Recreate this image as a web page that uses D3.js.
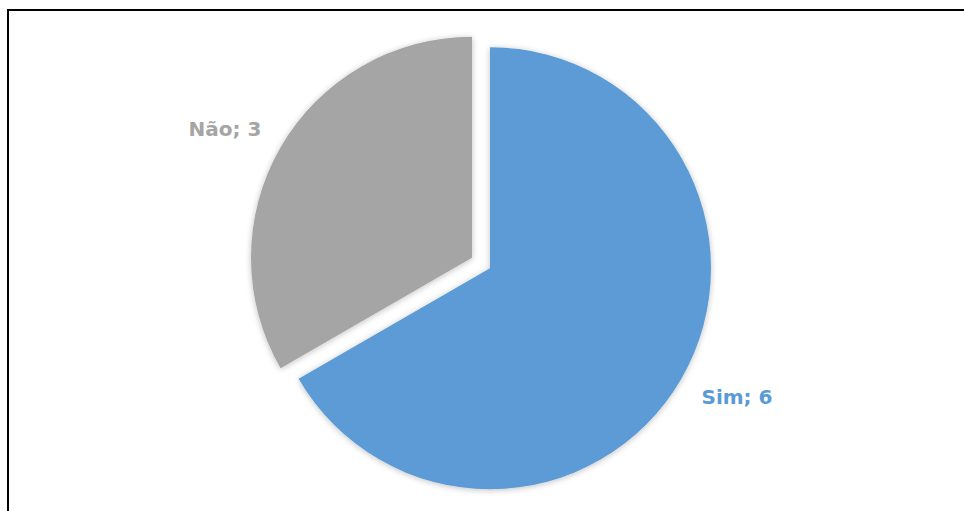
<!DOCTYPE html>
<html>
<head>
<meta charset="utf-8">
<script src="https://cdn.jsdelivr.net/npm/d3@7"></script>
<style>
  html, body { margin: 0; padding: 0; background: #fff; }
  svg { display: block; }
</style>
</head>
<body>
<svg id="chart" width="964" height="511"></svg>
<script>
const categories = ["Sim", "Não"];
const values = [6, 3];
const colors = ["#5B9BD5", "#A5A5A5"];
const labelColors = ["#5B9BD5", "#A5A5A5"];

const W = 964, H = 511;
const svg = d3.select("#chart");

// chart frame (extends beyond right/bottom edges)
svg.append("rect")
  .attr("x", 8).attr("y", 10)
  .attr("width", W + 20).attr("height", H + 20)
  .attr("fill", "#fff")
  .attr("stroke", "#000")
  .attr("stroke-width", 2);

const defs = svg.append("defs");
const f = defs.append("filter").attr("id", "shadow")
  .attr("x", "-10%").attr("y", "-10%").attr("width", "120%").attr("height", "120%");
f.append("feGaussianBlur").attr("in", "SourceAlpha").attr("stdDeviation", 3).attr("result", "b");
f.append("feOffset").attr("in", "b").attr("dx", 0).attr("dy", 1).attr("result", "o");
f.append("feComponentTransfer").attr("in", "o").attr("result", "s")
  .append("feFuncA").attr("type", "linear").attr("slope", 0.25);
const m = f.append("feMerge");
m.append("feMergeNode").attr("in", "s");
m.append("feMergeNode").attr("in", "SourceGraphic");

const cx = 481, cy = 263, r = 221, explode = 10.4;

const pie = d3.pie().sort(null).value(d => d)(values);
const arc = d3.arc().innerRadius(0).outerRadius(r);
const labelR = r * 1.26;
const labelShift = -2.5 * Math.PI / 180;

const g = svg.append("g").attr("transform", `translate(${cx},${cy})`);

const slices = g.selectAll("g.slice").data(pie).enter().append("g")
  .attr("class", "slice")
  .attr("transform", d => {
    const a = (d.startAngle + d.endAngle) / 2;
    return `translate(${Math.sin(a) * explode},${-Math.cos(a) * explode})`;
  });

slices.append("path")
  .attr("d", arc)
  .attr("fill", (d, i) => colors[i])
  .attr("filter", "url(#shadow)");

slices.append("text")
  .attr("transform", d => {
    const a = (d.startAngle + d.endAngle) / 2 + labelShift;
    return `translate(${Math.sin(a) * labelR},${-Math.cos(a) * labelR})`;
  })
  .attr("text-anchor", "middle")
  .attr("dominant-baseline", "central")
  .attr("font-family", "'DejaVu Sans', sans-serif")
  .attr("font-weight", "bold")
  .attr("font-size", 20)
  .attr("fill", (d, i) => labelColors[i])
  .text((d, i) => `${categories[i]}; ${values[i]}`);
</script>
</body>
</html>
